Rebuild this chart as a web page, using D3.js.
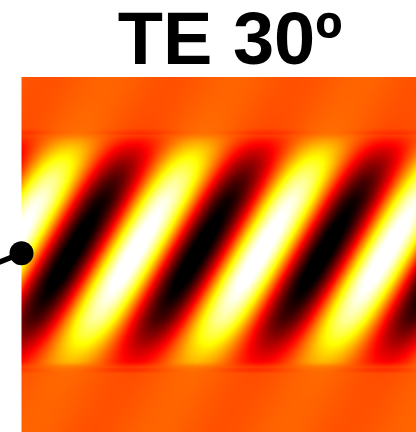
<!DOCTYPE html>
<html>
<head>
<meta charset="utf-8">
<script src="https://cdn.jsdelivr.net/npm/d3@7/dist/d3.min.js"></script>
<style>
  html, body { margin: 0; padding: 0; background: #fff; }
  svg { display: block; }
</style>
</head>
<body>
<script>
// Field map of a TE wave at 30 degrees incidence: tilted wavefronts inside a
// guiding layer, near-zero field in the cladding above and below.

const title = "TE 30º";

// Transverse positions (µm) where the field envelope is sampled, bottom to top
const rowY =         [-2.85, -2.34, -1.93, -1.87, -1.82, -1.74, -1.55, -1.31, -1.08, -0.76, -0.44, 0.00, 0.35, 0.82, 1.14, 1.38, 1.61, 1.77, 1.84, 1.88, 1.96, 2.09, 2.41, 2.77];
// Normalised field amplitude at each of those positions
const rowAmplitude = [ 0.03,  0.03,  0.04,  0.10,  0.10,  0.28,  0.42,  0.62,  0.80,  0.95,  1.05, 1.08, 1.05, 0.95, 0.78, 0.60, 0.38, 0.20, 0.10, 0.10, 0.05, 0.04, 0.03, 0.03];
// Small constant field offset (interface lines)
const rowOffset =    [ 0.00,  0.00,  0.00, -0.04,  0.00,  0.00,  0.00,  0.00,  0.00,  0.00,  0.00, 0.00, 0.00, 0.00, 0.00, 0.00, 0.00, 0.00, 0.00, -0.04, 0.00, 0.00, 0.00, 0.00];

// Wave parameters
const wavePeriod = 2.0;       // µm, along the propagation axis
const waveAngleDeg = 30;      // wavefront tilt
const crestAtOrigin = 1.80;   // µm, crest position on the axis y = 0

// Source marker
const sourcePoint = { x: 0, y: -0.02 };
const sourceLead = { x: -0.65, y: -0.28 };

const xDomain = [0, 6.25];
const yDomain = [-2.85, 2.77];

const W = 416, H = 432;
const plot = { left: 21.5, right: 416, top: 77, bottom: 432 };

const x = d3.scaleLinear().domain(xDomain).range([plot.left, plot.right]);
const y = d3.scaleLinear().domain(yDomain).range([plot.bottom, plot.top]);

const amp = d3.scaleLinear().domain(rowY).range(rowAmplitude).clamp(true);
const off = d3.scaleLinear().domain(rowY).range(rowOffset).clamp(true);

// matplotlib "hot" colormap, value in [-1, 1]
function hot(v) {
  const t = Math.max(0, Math.min(1, (v + 1) / 2));
  const r = Math.max(0, Math.min(1, t / 0.365079));
  const g = Math.max(0, Math.min(1, (t - 0.365079) / (0.746032 - 0.365079)));
  const b = Math.max(0, Math.min(1, (t - 0.746032) / (1 - 0.746032)));
  return [r * 255, g * 255, b * 255];
}

const svg = d3.select("body").append("svg")
  .attr("width", W).attr("height", H);

// Rasterise the field onto a canvas, then place it in the SVG
const pw = Math.round(plot.right - plot.left), ph = Math.round(plot.bottom - plot.top);
const canvas = document.createElement("canvas");
canvas.width = pw; canvas.height = ph;
const ctx = canvas.getContext("2d");
const img = ctx.createImageData(pw, ph);
const tilt = Math.tan(waveAngleDeg * Math.PI / 180);
for (let j = 0; j < ph; j++) {
  const yv = y.invert(plot.top + j + 0.5);
  const a = amp(yv), o = off(yv);
  const crest = crestAtOrigin + tilt * yv;
  for (let i = 0; i < pw; i++) {
    const xv = x.invert(plot.left + i + 0.5);
    const v = o + a * Math.cos(2 * Math.PI * (xv - crest) / wavePeriod);
    const c = hot(v);
    const k = (j * pw + i) * 4;
    img.data[k] = c[0]; img.data[k + 1] = c[1]; img.data[k + 2] = c[2]; img.data[k + 3] = 255;
  }
}
ctx.putImageData(img, 0, 0);

svg.append("image")
  .attr("x", x(xDomain[0])).attr("y", y(yDomain[1]))
  .attr("width", x(xDomain[1]) - x(xDomain[0]))
  .attr("height", y(yDomain[0]) - y(yDomain[1]))
  .attr("preserveAspectRatio", "none")
  .attr("href", canvas.toDataURL());

// Source marker
svg.append("line")
  .attr("x1", x(sourceLead.x)).attr("y1", y(sourceLead.y))
  .attr("x2", x(sourcePoint.x)).attr("y2", y(sourcePoint.y))
  .attr("stroke", "#000").attr("stroke-width", 5.5);
svg.append("circle")
  .attr("cx", x(sourcePoint.x)).attr("cy", y(sourcePoint.y))
  .attr("r", 12).attr("fill", "#000");

// Title
svg.append("text")
  .attr("x", 230).attr("y", 64)
  .attr("text-anchor", "middle")
  .attr("font-family", "'Liberation Sans', Arial, Helvetica, sans-serif")
  .attr("font-weight", "bold")
  .attr("font-size", 74)
  .attr("fill", "#000")
  .text(title);
</script>
</body>
</html>
